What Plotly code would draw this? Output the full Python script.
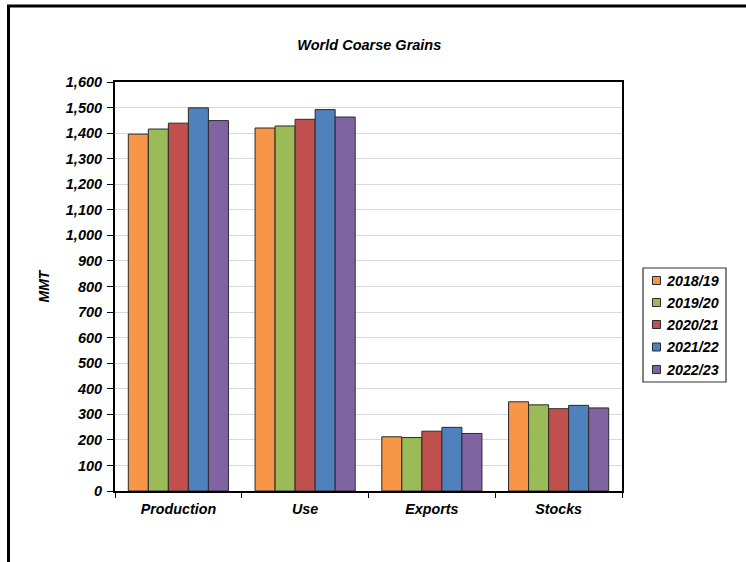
import plotly.graph_objects as go

categories = ["Production", "Use", "Exports", "Stocks"]
seasons = ["2018/19", "2019/20", "2020/21", "2021/22", "2022/23"]
values_2018_19 = [1396, 1420, 212, 349]
values_2019_20 = [1416, 1428, 209, 337]
values_2020_21 = [1439, 1454, 234, 322]
values_2021_22 = [1499, 1492, 249, 335]
values_2022_23 = [1449, 1463, 225, 325]
series_values = [values_2018_19, values_2019_20, values_2020_21, values_2021_22, values_2022_23]
colors = ["#F79646", "#9BBB59", "#C0504D", "#4F81BD", "#8064A2"]
y_ticks = list(range(0, 1601, 100))

FONT = "Liberation Sans, Arial, sans-serif"
BI = dict(family=FONT, size=14, color="black", weight="bold", style="italic")

fig = go.Figure()
for name, vals, col in zip(seasons, series_values, colors):
    fig.add_trace(go.Bar(
        name=name, x=categories, y=vals, showlegend=False,
        marker=dict(color=col, line=dict(color="#2a2a2a", width=1)),
    ))

W, H = 746, 562
L, R, T, B = 115, 124, 82, 71
pw, ph = W - L - R, H - T - B


def px_x(x):
    return (x - L) / pw


def px_y(y):
    return (H - B - y) / ph


fig.update_layout(
    width=W, height=H,
    margin=dict(l=L, r=R, t=T, b=B, autoexpand=False),
    paper_bgcolor="white", plot_bgcolor="white",
    barmode="group", bargap=0.21, bargroupgap=0,
    font=dict(family=FONT, size=14, color="black"),
    title=dict(text="World Coarse Grains", x=px_x(366), xanchor="center",
               y=1 - 45 / H, yanchor="middle", font=dict(BI, size=14.5)),
    showlegend=False,
)

fig.update_yaxes(
    range=[0, 1600], tickvals=y_ticks, tickformat=",d",
    showgrid=True, gridcolor="#d9d9d9", gridwidth=1,
    showline=True, linecolor="black", linewidth=2, mirror=True,
    ticks="outside", ticklen=6, tickcolor="black", ticklabelstandoff=2,
    zeroline=False,
    title=dict(text="MMT", standoff=13, font=BI),
    tickfont=dict(BI, size=14.5),
)
fig.update_xaxes(
    showline=True, linecolor="black", linewidth=2, mirror=True,
    ticks="outside", tickson="boundaries", ticklen=5, tickcolor="black",
    ticklabelstandoff=4,
    tickfont=dict(BI, size=14.3),
)

# Outer chart frame (left and top edges visible)
fig.add_shape(type="line", xref="paper", yref="paper",
              x0=px_x(7), x1=px_x(760), y0=px_y(6), y1=px_y(6),
              line=dict(color="black", width=3))
fig.add_shape(type="line", xref="paper", yref="paper",
              x0=px_x(8.5), x1=px_x(8.5), y0=px_y(5), y1=px_y(580),
              line=dict(color="black", width=3))

# Legend box with square swatches
fig.add_shape(type="rect", xref="paper", yref="paper",
              x0=px_x(643), x1=px_x(726), y0=px_y(268), y1=px_y(382),
              line=dict(color="#333333", width=1.2), fillcolor="white")
row_y = [280.5, 302.5, 324.5, 347, 369.5]
for name, col, yc in zip(seasons, colors, row_y):
    fig.add_shape(type="rect", xref="paper", yref="paper",
                  x0=px_x(652.5), x1=px_x(660.5), y0=px_y(yc - 4), y1=px_y(yc + 4),
                  line=dict(color="#2a2a2a", width=1), fillcolor=col)
    fig.add_annotation(xref="paper", yref="paper", x=px_x(664), y=px_y(yc),
                       xanchor="left", yanchor="middle", showarrow=False,
                       text=name, font=dict(BI, size=14.3))

fig.write_html("out.html")
